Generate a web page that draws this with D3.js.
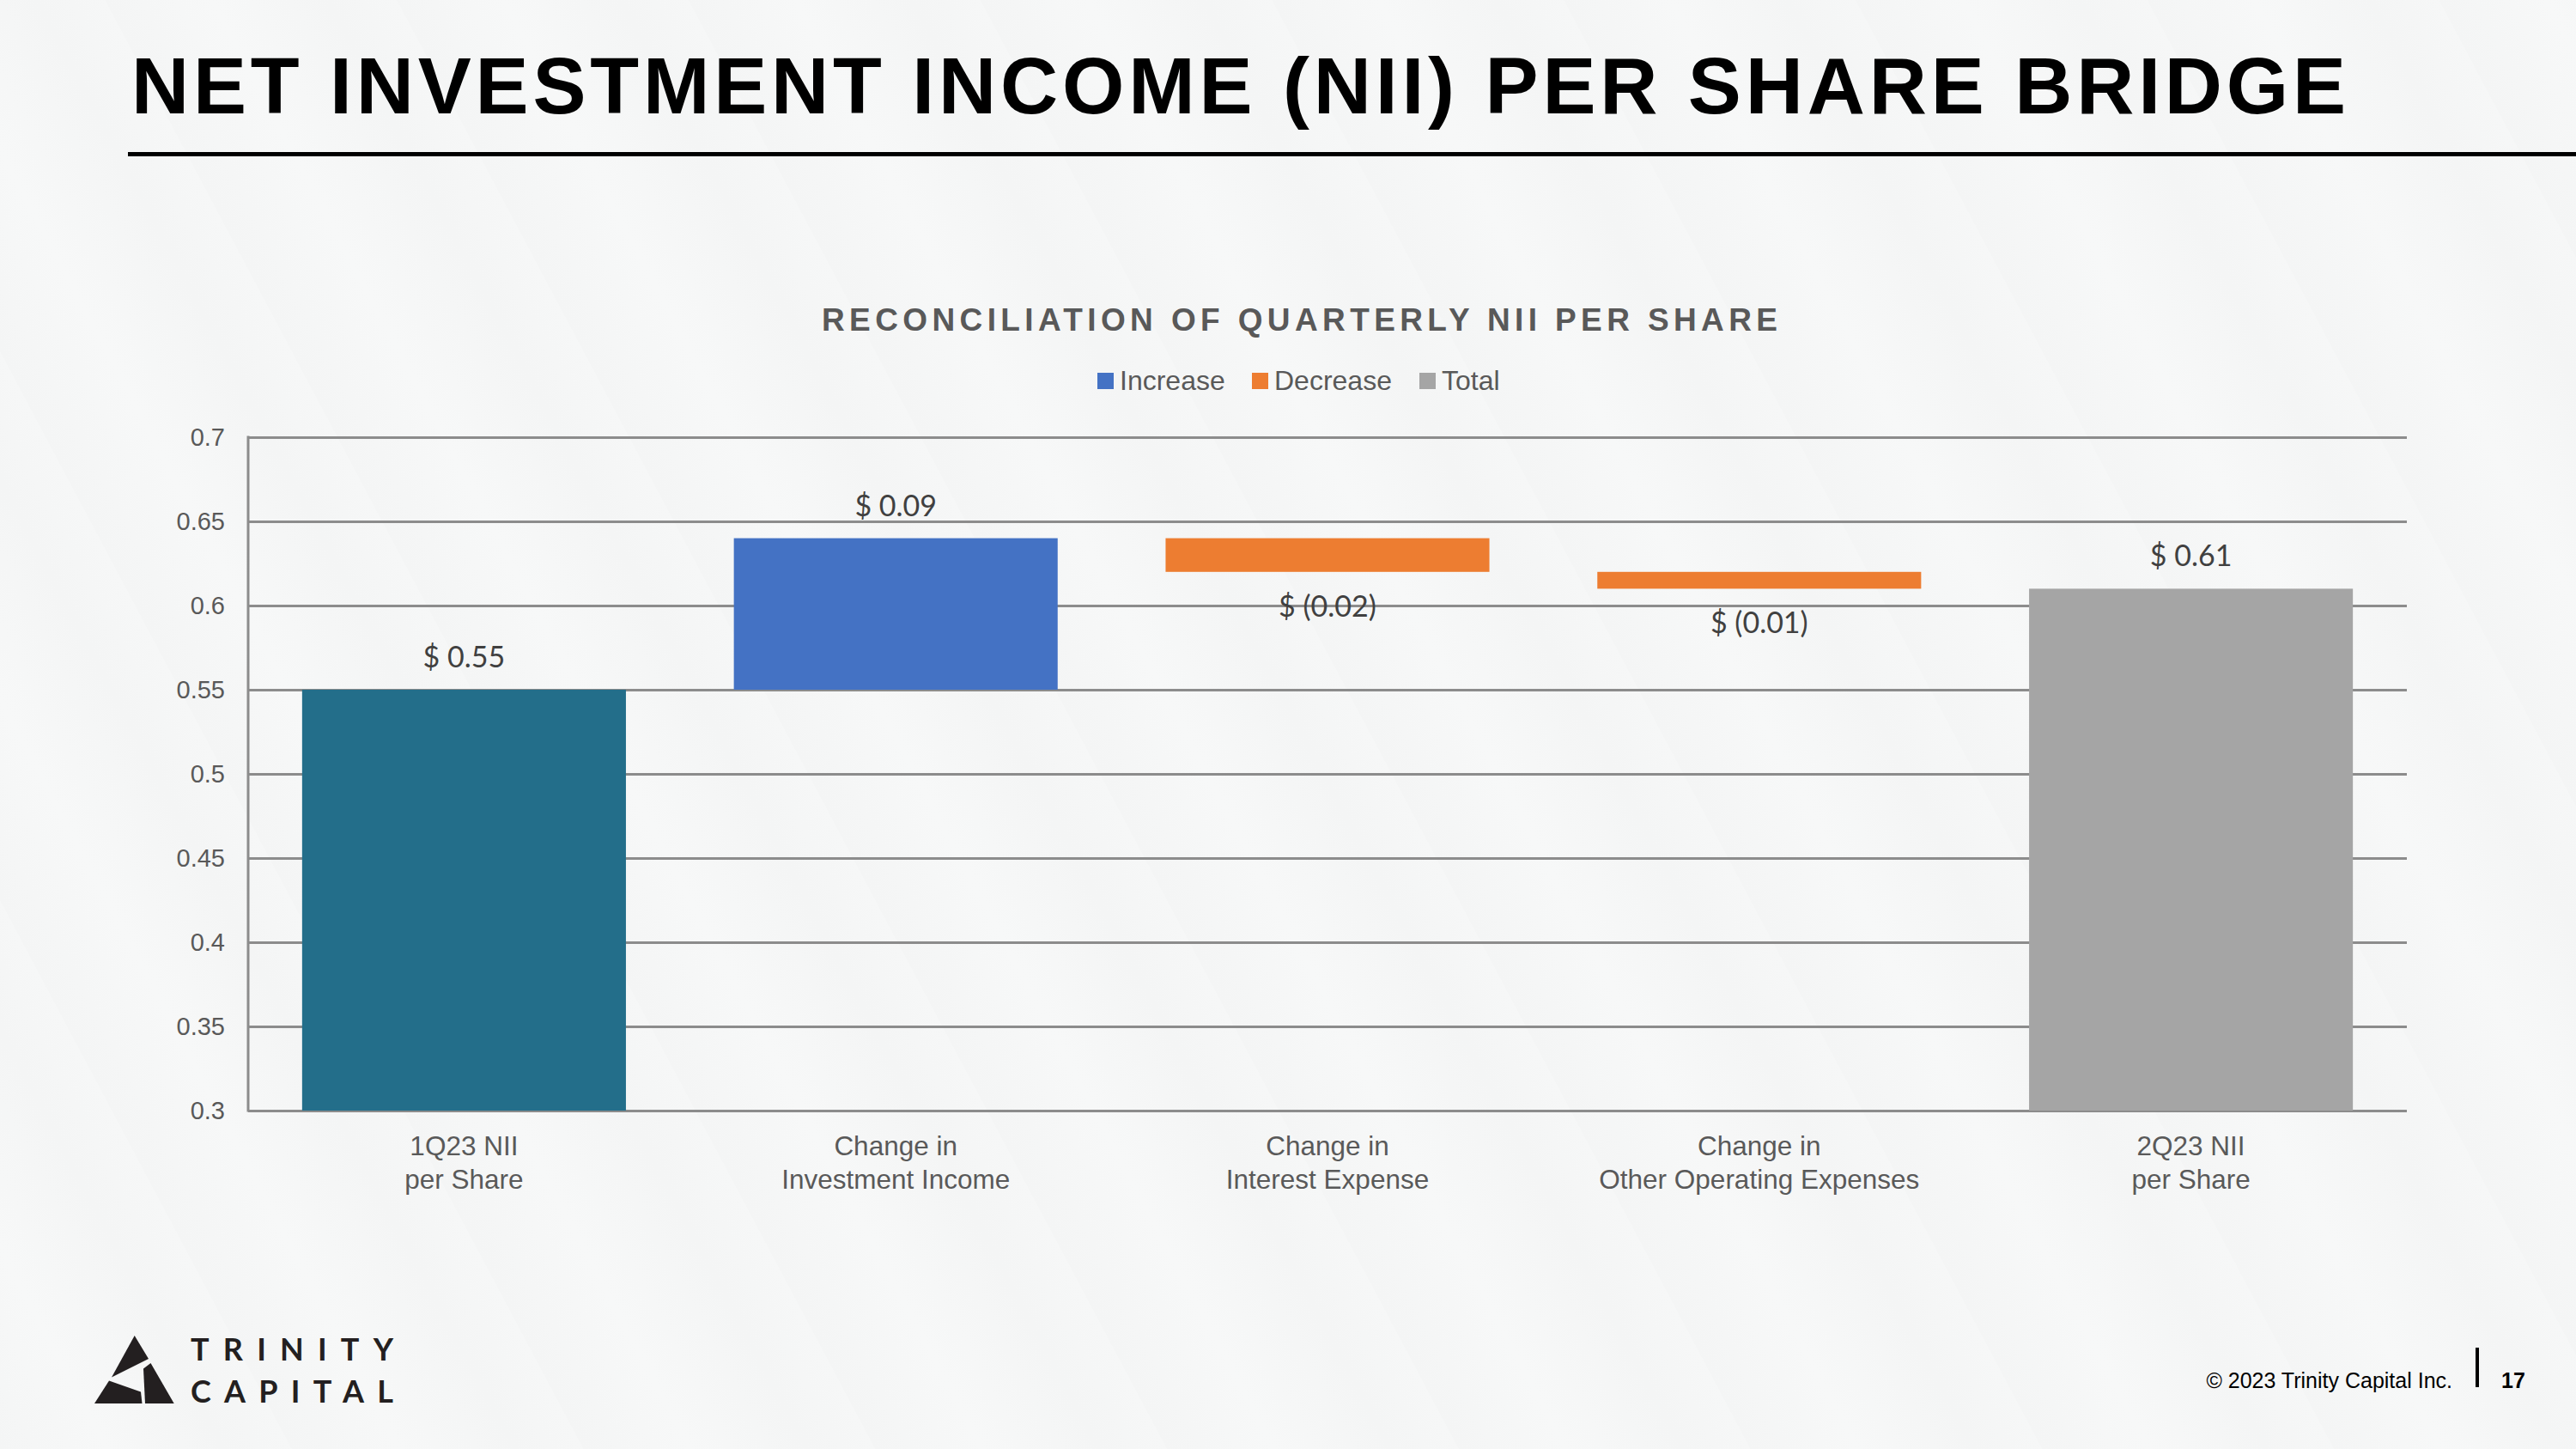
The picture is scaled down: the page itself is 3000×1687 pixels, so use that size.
<!DOCTYPE html>
<html>
<head>
<meta charset="utf-8">
<script src="https://cdn.jsdelivr.net/npm/d3@7"></script>
<style>
  html, body { margin: 0; padding: 0; }
  body {
    width: 3000px; height: 1687px; overflow: hidden;
    background: repeating-linear-gradient(62deg, #f4f5f5 0px, #f7f8f8 110px, #f4f5f5 230px, #f6f7f7 300px);
  }
  svg { display: block; }
</style>
</head>
<body>
<svg id="chart" width="3000" height="1687"></svg>
<script>
// ---------------- data ----------------
const categories = [
  ["1Q23 NII", "per Share"],
  ["Change in", "Investment Income"],
  ["Change in", "Interest Expense"],
  ["Change in", "Other Operating Expenses"],
  ["2Q23 NII", "per Share"]
];
const changes = [0.55, 0.09, -0.02, -0.01, 0.61];
const barKinds = ["start", "increase", "decrease", "decrease", "total"];
const dataLabels = ["$ 0.55", "$ 0.09", "$ (0.02)", "$ (0.01)", "$ 0.61"];
const yTicks = [0.3, 0.35, 0.4, 0.45, 0.5, 0.55, 0.6, 0.65, 0.7];
const yDomain = [0.3, 0.7];
const legendItems = ["Increase", "Decrease", "Total"];

const kindColor = { start: "#236E8A", increase: "#4472C4", decrease: "#ED7D31", total: "#A5A5A5" };
const legendColor = { Increase: "#4472C4", Decrease: "#ED7D31", Total: "#A5A5A5" };

// ---------------- layout ----------------
const svg = d3.select("#chart");
const plot = { left: 289, right: 2803, top: 509, bottom: 1293 };
const textGray = "#595959";
const gridGray = "#8c8c8c";
const sans = "'Liberation Sans', Arial, Helvetica, sans-serif";

// Title
svg.append("text")
  .attr("x", 153).attr("y", 132)
  .attr("textLength", 2579).attr("lengthAdjust", "spacing")
  .style("font-family", sans).style("font-weight", "bold").style("font-size", "93px")
  .style("fill", "#000")
  .text("NET INVESTMENT INCOME (NII) PER SHARE BRIDGE");

svg.append("rect").attr("x", 149).attr("y", 177).attr("width", 2851).attr("height", 5).attr("fill", "#000");

// Chart title
svg.append("text")
  .attr("x", 957).attr("y", 385)
  .attr("textLength", 1113).attr("lengthAdjust", "spacing")
  .style("font-family", sans).style("font-weight", "bold").style("font-size", "37px")
  .style("fill", textGray)
  .text("RECONCILIATION OF QUARTERLY NII PER SHARE");

// Legend
const legendStarts = [1278, 1458, 1653];
const lg = svg.append("g");
legendItems.forEach((name, i) => {
  const g = lg.append("g").attr("transform", `translate(${legendStarts[i]},0)`);
  g.append("rect").attr("x", 0).attr("y", 434).attr("width", 19).attr("height", 19).attr("fill", legendColor[name]);
  g.append("text").attr("x", 26).attr("y", 454)
    .style("font-family", sans).style("font-size", "32px").style("fill", textGray)
    .text(name);
});

// Scales
const x = d3.scaleBand()
  .domain(d3.range(categories.length))
  .range([plot.left, plot.right])
  .paddingInner(0.25).paddingOuter(0.125);
const y = d3.scaleLinear().domain(yDomain).range([plot.bottom, plot.top]);

// Gridlines + y axis
const yAxis = d3.axisLeft(y)
  .tickValues(yTicks)
  .tickSize(-(plot.right - plot.left))
  .tickPadding(27)
  .tickFormat(d => String(+d.toFixed(2)));
const ga = svg.append("g").attr("transform", `translate(${plot.left},0)`).call(yAxis);
ga.select(".domain").remove();
ga.selectAll(".tick line").attr("stroke", gridGray).attr("stroke-width", 3);
ga.selectAll(".tick text")
  .style("font-family", sans).style("font-size", "29px").style("fill", textGray);
// vertical axis line
svg.append("line")
  .attr("x1", plot.left).attr("x2", plot.left)
  .attr("y1", y(yDomain[1]) - 1.5).attr("y2", y(yDomain[0]) + 1.5)
  .attr("stroke", gridGray).attr("stroke-width", 3);

// Waterfall computation
let running = 0;
const bars = changes.map((v, i) => {
  const kind = barKinds[i];
  let lo, hi;
  if (kind === "start" || kind === "total") {
    lo = yDomain[0]; hi = v; running = v;
  } else {
    const prev = running;
    running = +(running + v).toFixed(4);
    lo = Math.min(prev, running); hi = Math.max(prev, running);
  }
  return { i, kind, lo, hi, v, label: dataLabels[i] };
});

svg.append("g").selectAll("rect").data(bars).join("rect")
  .attr("x", d => x(d.i))
  .attr("width", x.bandwidth())
  .attr("y", d => y(d.hi))
  .attr("height", d => y(d.lo) - y(d.hi))
  .attr("fill", d => kindColor[d.kind]);

// Data labels
svg.append("g").selectAll("text").data(bars).join("text")
  .attr("x", d => x(d.i) + x.bandwidth() / 2)
  .attr("y", d => d.v >= 0 ? y(d.hi) - 26 : y(d.lo) + 52)
  .attr("text-anchor", "middle")
  .style("font-family", "Lato, 'Open Sans', sans-serif").style("font-size", "34px").style("fill", "#404040")
  .text(d => d.label);

// X category labels
const xl = svg.append("g").selectAll("text").data(categories).join("text")
  .attr("x", (d, i) => x(i) + x.bandwidth() / 2)
  .attr("y", 1345)
  .attr("text-anchor", "middle")
  .style("font-family", sans).style("font-size", "31.5px").style("fill", textGray);
xl.selectAll("tspan").data(d => d).join("tspan")
  .attr("x", function() { return this.parentNode.getAttribute("x"); })
  .attr("dy", (d, j) => j === 0 ? 0 : 39)
  .text(d => d);

// Logo
const logo = svg.append("g").attr("fill", "#231f20");
logo.append("polygon").attr("points", "156.7,1555 173,1582 130,1603.5");
logo.append("polygon").attr("points", "127,1607.5 164,1620.5 165.5,1634 110,1634");
logo.append("polygon").attr("points", "175.5,1587 167,1593.5 169,1634 202.7,1634");
logo.append("text").attr("x", 222).attr("y", 1584)
  .attr("textLength", 236).attr("lengthAdjust", "spacing")
  .style("font-family", "Lato, sans-serif").style("font-weight", "bold").style("font-size", "36px")
  .text("TRINITY");
logo.append("text").attr("x", 222).attr("y", 1633)
  .attr("textLength", 236).attr("lengthAdjust", "spacing")
  .style("font-family", "Lato, sans-serif").style("font-weight", "bold").style("font-size", "36px")
  .text("CAPITAL");

// Footer
svg.append("text").attr("x", 2856).attr("y", 1616).attr("text-anchor", "end")
  .style("font-family", sans).style("font-size", "25px").style("fill", "#000")
  .text("© 2023 Trinity Capital Inc.");
svg.append("rect").attr("x", 2883).attr("y", 1569).attr("width", 4).attr("height", 46).attr("fill", "#000");
svg.append("text").attr("x", 2913).attr("y", 1616)
  .style("font-family", sans).style("font-weight", "bold").style("font-size", "25px").style("fill", "#000")
  .text("17");
</script>
</body>
</html>
